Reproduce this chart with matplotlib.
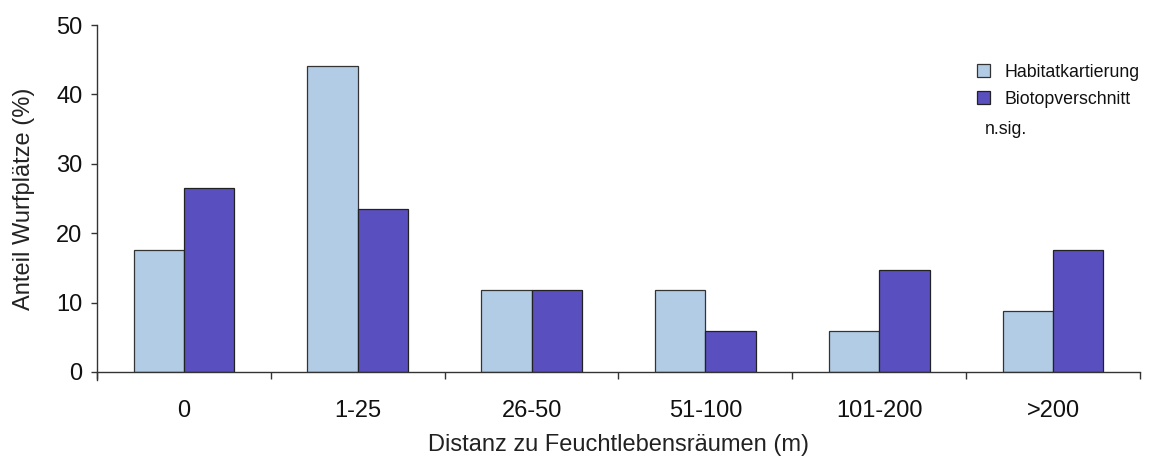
import numpy as np
import matplotlib
matplotlib.use("Agg")
from matplotlib import pyplot as plt

plt.rcParams['font.family'] = ['Liberation Sans', 'DejaVu Sans']

# Daten (Anteil Wurfplaetze in %)
kategorien = ["0", "1-25", "26-50", "51-100", "101-200", ">200"]
habitat = [17.6, 44.1, 11.8, 11.8, 5.9, 8.8]
biotop = [26.5, 23.5, 11.8, 5.9, 14.7, 17.6]

farbe_hab = "#b3cce6"
farbe_bio = "#5a4fbe"

fig = plt.figure(figsize=(11.55, 4.62), dpi=100)
ax = fig.add_axes([97 / 1155, 1 - 372 / 462, 1043 / 1155, 347 / 462])

x = np.arange(len(kategorien))
w = 0.29
ax.bar(x - w / 2, habitat, w, color=farbe_hab, edgecolor="#333333", linewidth=0.9, label="Habitatkartierung")
ax.bar(x + w / 2, biotop, w, color=farbe_bio, edgecolor="#222222", linewidth=0.9, label="Biotopverschnitt")

ax.set_xlim(-0.5, len(kategorien) - 0.5)
ax.set_ylim(0, 50)
ax.set_yticks([0, 10, 20, 30, 40, 50])

# Striche an den Klassengrenzen, Beschriftung in der Mitte
ax.set_xticks(np.arange(len(kategorien) + 1) - 0.5)
ax.set_xticklabels([])
ax.set_xticks(x, minor=True)
ax.set_xticklabels(kategorien, minor=True)
ax.tick_params(axis="x", which="major", length=5, width=1, color="#333333")
ax.tick_params(axis="x", which="minor", length=0, pad=20, labelsize=17, labelcolor="#111111")
ax.tick_params(axis="y", length=4.5, width=1, color="#333333", pad=6, labelsize=17, labelcolor="#111111")

for s in ["top", "right"]:
    ax.spines[s].set_visible(False)
for s in ["left", "bottom"]:
    ax.spines[s].set_color("#333333")
    ax.spines[s].set_linewidth(1)
ax.spines["left"].set_bounds(-1.2, 50)

ax.set_xlabel("Distanz zu Feuchtlebensräumen (m)", fontsize=17, color="#222222", labelpad=9)
ax.set_ylabel("Anteil Wurfplätze (%)", fontsize=17, color="#222222", labelpad=15)

leg = ax.legend(loc="upper left", bbox_to_anchor=(977 / 1155, 1 - 64 / 462),
                bbox_transform=fig.transFigure, frameon=False, fontsize=12.8,
                handlelength=0.75, handleheight=0.75, handletextpad=0.8,
                labelspacing=0.55, borderpad=0, borderaxespad=0)
for t in leg.get_texts():
    t.set_color("#111111")
fig.text(985 / 1155, 1 - 130 / 462, "n.sig.", fontsize=12.8, color="#111111", va="center", ha="left")

plt.savefig("out.png", dpi=100)
